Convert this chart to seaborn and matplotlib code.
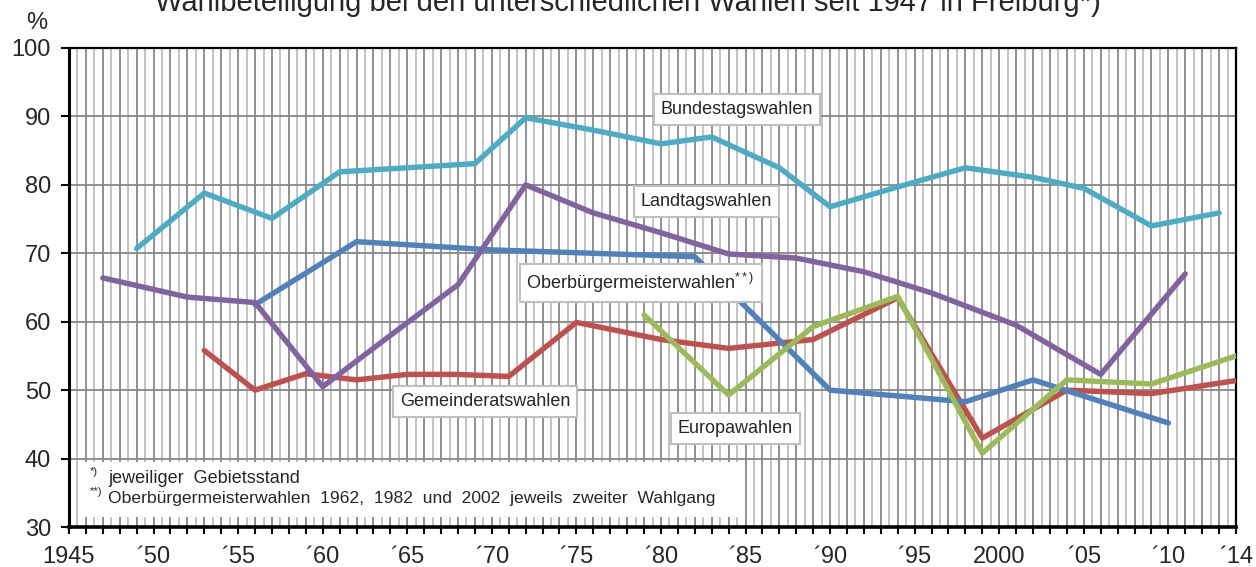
import numpy as np
import pandas as pd
import matplotlib
matplotlib.use("Agg")
import matplotlib.pyplot as plt
import seaborn as sns
from matplotlib.patches import Rectangle

# ---------------- data ----------------
bund_years = [1949, 1953, 1957, 1961, 1965, 1969, 1972, 1976, 1980, 1983, 1987, 1990, 1994, 1998, 2002, 2005, 2009, 2013]
bund_vals = [70.7, 78.8, 75.1, 81.9, 82.5, 83.1, 89.8, 88.0, 86.0, 87.0, 82.5, 76.8, 79.7, 82.5, 81.1, 79.5, 74.0, 75.9]

land_years = [1947, 1952, 1956, 1960, 1964, 1968, 1972, 1976, 1980, 1984, 1988, 1992, 1996, 2001, 2006, 2011]
land_vals = [66.4, 63.6, 62.8, 50.5, 58.0, 65.4, 80.0, 75.9, 73.0, 69.9, 69.3, 67.3, 64.2, 59.5, 52.3, 67.0]

ob_years = [1956, 1962, 1970, 1982, 1990, 1998, 2002, 2010]
ob_vals = [62.5, 71.7, 70.5, 69.5, 50.0, 48.3, 51.5, 45.2]

gem_years = [1953, 1956, 1959, 1962, 1965, 1968, 1971, 1975, 1980, 1984, 1989, 1994, 1999, 2004, 2009, 2014]
gem_vals = [55.8, 50.0, 52.4, 51.5, 52.3, 52.3, 52.0, 59.9, 57.4, 56.1, 57.4, 63.5, 43.0, 50.0, 49.5, 51.4]

eu_years = [1979, 1984, 1989, 1994, 1999, 2004, 2009, 2014]
eu_vals = [61.0, 49.3, 59.3, 63.7, 40.8, 51.5, 50.9, 55.0]

series_names = ["Gemeinderatswahlen", "Oberbürgermeisterwahlen", "Bundestagswahlen", "Landtagswahlen", "Europawahlen"]
series_colors = ["#C0504D", "#4F81BD", "#4BACC6", "#8064A2", "#9BBB59"]

tick_years = [1945, 1950, 1955, 1960, 1965, 1970, 1975, 1980, 1985, 1990, 1995, 2000, 2005, 2010, 2014]
tick_labels = ["1945", "´50", "´55", "´60", "´65", "´70", "´75", "´80", "´85", "´90", "´95", "2000", "´05", "´10", "´14"]

title = "Wahlbeteiligung bei den unterschiedlichen Wahlen seit 1947 in Freiburg*)"
footnote1 = "jeweiliger  Gebietsstand"
footnote2 = "Oberbürgermeisterwahlen  1962,  1982  und  2002  jeweils  zweiter  Wahlgang"

# ---------------- build frame ----------------
frames = []
for name, yrs, vals in [
    ("Gemeinderatswahlen", gem_years, gem_vals),
    ("Oberbürgermeisterwahlen", ob_years, ob_vals),
    ("Bundestagswahlen", bund_years, bund_vals),
    ("Landtagswahlen", land_years, land_vals),
    ("Europawahlen", eu_years, eu_vals),
]:
    frames.append(pd.DataFrame({"Jahr": yrs, "Wert": vals, "Wahl": name}))
df = pd.concat(frames, ignore_index=True)

sns.set_theme(style="white")
plt.rcParams["font.family"] = ["Liberation Sans", "DejaVu Sans"]

W, H = 1256, 567
fig = plt.figure(figsize=(W / 100, H / 100), dpi=100)
L, R, T, B = 69, 1236, 48, 527
ax = fig.add_axes([L / W, 1 - B / H, (R - L) / W, (B - T) / H])

# grid
ax.set_axisbelow(True)
ax.set_xlim(1945, 2014)
ax.set_ylim(30, 100)
ax.set_xticks(range(1945, 2015))
ax.set_xticks(np.arange(1945.5, 2014, 1.0), minor=True)
ax.set_yticks(range(30, 101, 10))
ax.grid(which="major", axis="x", color="#878787", lw=1.3)
ax.grid(which="minor", axis="x", color="#BEBEBE", lw=1.3)
ax.grid(which="major", axis="y", color="#878787", lw=1.3)

# footnote box (white, covering the grid)
ax.add_patch(Rectangle((1945.65, 31.4), 39.05, 8.1, facecolor="white", edgecolor="none", zorder=1))

palette = dict(zip(series_names, series_colors))
for name in series_names:
    sub = df[df["Wahl"] == name]
    sns.lineplot(data=sub, x="Jahr", y="Wert", color=palette[name], lw=3.9,
                 estimator=None, sort=True, ax=ax, legend=False, zorder=3)

ax.set_xlabel("")
ax.set_ylabel("")

labels_all = ["" for _ in range(1945, 2015)]
for y, lab in zip(tick_years, tick_labels):
    labels_all[y - 1945] = lab
ax.set_xticklabels(labels_all)
ax.tick_params(axis="x", which="major", direction="out", length=5, width=1.5, color="black",
               labelsize=17, pad=9, bottom=True)
ax.tick_params(axis="x", which="minor", length=0)
ax.tick_params(axis="y", direction="out", length=6, width=1.5, color="black",
               labelsize=17, pad=7, left=True)
for sp in ax.spines.values():
    sp.set_color("black")
    sp.set_linewidth(1.6)
ax.spines["left"].set_linewidth(2.2)
ax.spines["bottom"].set_linewidth(2.6)

# series labels
box = dict(boxstyle="square,pad=0.38", fc="white", ec="#BFBFBF", lw=1.5)
ax.text(1984.5, 91.0, "Bundestagswahlen", ha="center", va="center", fontsize=13, bbox=box, zorder=5)
ax.text(1982.7, 77.6, "Landtagswahlen", ha="center", va="center", fontsize=13, bbox=box, zorder=5)
ax.text(1978.8, 65.6, "Oberbürgermeisterwahlen$^{\\mathregular{**)}}$", ha="center", va="center",
        fontsize=13, bbox=box, zorder=5)
ax.text(1969.6, 48.3, "Gemeinderatswahlen", ha="center", va="center", fontsize=13, bbox=box, zorder=5)
ax.text(1984.4, 44.4, "Europawahlen", ha="center", va="center", fontsize=13, bbox=box, zorder=5)

# footnotes
ax.text(1947.3, 37.1, footnote1, ha="left", va="center", fontsize=13, zorder=5)
ax.text(1947.3, 34.2, footnote2, ha="left", va="center", fontsize=12.6, zorder=5)
ax.text(1946.2, 38.0, "*)", ha="left", va="center", fontsize=8, zorder=5)
ax.text(1946.2, 35.1, "**)", ha="left", va="center", fontsize=8, zorder=5)

# title and unit
fig.text(0.5, 1 - 11 / H, title, ha="center", va="baseline", fontsize=21)
fig.text(37 / W, 1 - 23 / H, "%", ha="center", va="center", fontsize=17)

fig.savefig("out.png", dpi=100)
